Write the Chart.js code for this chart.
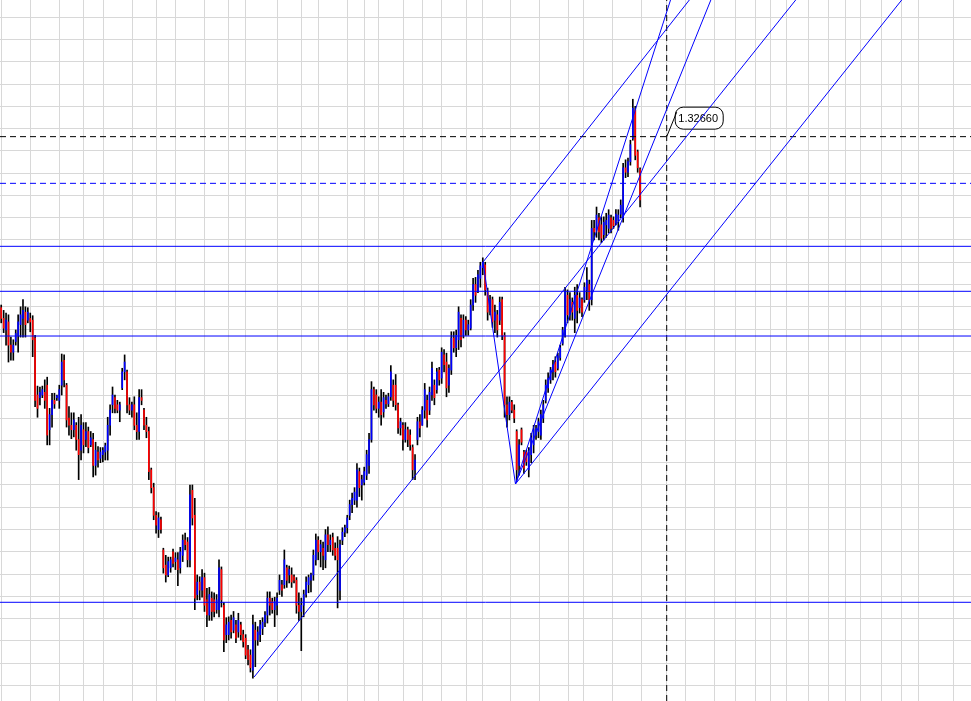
<!DOCTYPE html>
<html>
<head>
<meta charset="utf-8">
<title>Price chart</title>
<style>
  html, body { margin: 0; padding: 0; background: #ffffff; overflow: hidden; }
  #wrap { width: 971px; height: 701px; }
</style>
<script src="https://cdn.jsdelivr.net/npm/chart.js@4.4.1/dist/chart.umd.min.js"></script>
</head>
<body>
<div id="wrap"><canvas id="priceChart" width="971" height="701"></canvas></div>
<script>
// OHLC bars, one entry per bar (bar index = position in the array)
const opens = [
  1.3074, 1.3062, 1.3049, 1.3058, 1.3032, 1.3024, 1.3036, 1.3043, 1.3055, 1.3062,
  1.3069, 1.3060, 1.3062, 1.3060, 1.3040, 1.2976, 1.2973, 1.2976, 1.2979, 1.2987,
  1.2937, 1.2954, 1.2970, 1.2973, 1.2970, 1.2987, 1.3015, 1.2987, 1.2950, 1.2942,
  1.2937, 1.2942, 1.2926, 1.2914, 1.2937, 1.2926, 1.2935, 1.2920, 1.2926, 1.2897,
  1.2912, 1.2905, 1.2909, 1.2912, 1.2914, 1.2942, 1.2965, 1.2973, 1.2965, 1.2959,
  1.2984, 1.3002, 1.3002, 1.2965, 1.2959, 1.2965, 1.2942, 1.2935, 1.2973, 1.2959,
  1.2942, 1.2935, 1.2892, 1.2872, 1.2841, 1.2825, 1.2836, 1.2802, 1.2785, 1.2774,
  1.2782, 1.2800, 1.2789, 1.2791, 1.2782, 1.2796, 1.2813, 1.2811, 1.2791, 1.2869,
  1.2841, 1.2752, 1.2766, 1.2757, 1.2771, 1.2746, 1.2729, 1.2748, 1.2746, 1.2735,
  1.2735, 1.2780, 1.2740, 1.2707, 1.2707, 1.2723, 1.2712, 1.2718, 1.2710, 1.2718,
  1.2707, 1.2703, 1.2690, 1.2684, 1.2667, 1.2712, 1.2701, 1.2707, 1.2714, 1.2721,
  1.2729, 1.2748, 1.2744, 1.2735, 1.2740, 1.2757, 1.2763, 1.2763, 1.2782, 1.2774,
  1.2774, 1.2772, 1.2768, 1.2740, 1.2733, 1.2740, 1.2752, 1.2763, 1.2768, 1.2774,
  1.2791, 1.2813, 1.2800, 1.2804, 1.2791, 1.2819, 1.2808, 1.2816, 1.2804, 1.2804,
  1.2757, 1.2813, 1.2822, 1.2827, 1.2841, 1.2853, 1.2858, 1.2858, 1.2890, 1.2875,
  1.2878, 1.2886, 1.2897, 1.2926, 1.2982, 1.2976, 1.2961, 1.2968, 1.2957, 1.2970,
  1.2966, 1.2974, 1.2987, 1.2987, 1.2965, 1.2939, 1.2942, 1.2926, 1.2937, 1.2931,
  1.2917, 1.2892, 1.2926, 1.2946, 1.2942, 1.2959, 1.2970, 1.2959, 1.2976, 1.2987,
  1.2982, 1.3004, 1.2995, 1.3021, 1.3013, 1.2987, 1.3004, 1.3040, 1.3029, 1.3038,
  1.3062, 1.3043, 1.3060, 1.3049, 1.3051, 1.3077, 1.3100, 1.3092, 1.3107, 1.3119,
  1.3122, 1.3092, 1.3071, 1.3083, 1.3060, 1.3066, 1.3060, 1.3083, 1.3043, 1.2965,
  1.2954, 1.2968, 1.2959, 1.2935, 1.2897, 1.2937, 1.2912, 1.2912, 1.2892, 1.2909,
  1.2920, 1.2931, 1.2935, 1.2931, 1.2950, 1.2970, 1.2984, 1.2993, 1.3002, 1.3013,
  1.3006, 1.3018, 1.3034, 1.3043, 1.3088, 1.3066, 1.3080, 1.3062, 1.3088, 1.3074,
  1.3083, 1.3083, 1.3094, 1.3100, 1.3083, 1.3163, 1.3161, 1.3175, 1.3167, 1.3156,
  1.3167, 1.3163, 1.3175, 1.3172, 1.3169, 1.3172, 1.3179, 1.3175, 1.3231, 1.3226,
  1.3238, 1.3264, 1.3296, 1.3249, 1.3229
];
const highs = [
  1.3077, 1.3071, 1.3068, 1.3066, 1.3041, 1.3038, 1.3049, 1.3066, 1.3075, 1.3083,
  1.3075, 1.3074, 1.3068, 1.3065, 1.3043, 1.2986, 1.2985, 1.2986, 1.2993, 1.2996,
  1.2961, 1.2978, 1.2978, 1.2976, 1.2987, 1.3022, 1.3021, 1.2989, 1.2963, 1.2956,
  1.2956, 1.2945, 1.2951, 1.2954, 1.2945, 1.2945, 1.2940, 1.2935, 1.2933, 1.2923,
  1.2918, 1.2917, 1.2917, 1.2922, 1.2951, 1.2965, 1.2985, 1.2976, 1.2970, 1.2968,
  1.3006, 1.3021, 1.3004, 1.2973, 1.2968, 1.2974, 1.2956, 1.2982, 1.2982, 1.2961,
  1.2951, 1.2940, 1.2894, 1.2877, 1.2845, 1.2844, 1.2839, 1.2804, 1.2796, 1.2794,
  1.2794, 1.2803, 1.2799, 1.2799, 1.2805, 1.2819, 1.2821, 1.2816, 1.2875, 1.2875,
  1.2860, 1.2774, 1.2772, 1.2780, 1.2776, 1.2759, 1.2760, 1.2755, 1.2754, 1.2752,
  1.2791, 1.2783, 1.2743, 1.2726, 1.2727, 1.2729, 1.2733, 1.2723, 1.2731, 1.2721,
  1.2712, 1.2707, 1.2695, 1.2690, 1.2729, 1.2721, 1.2716, 1.2723, 1.2726, 1.2733,
  1.2755, 1.2755, 1.2748, 1.2749, 1.2754, 1.2774, 1.2768, 1.2802, 1.2785, 1.2784,
  1.2782, 1.2774, 1.2771, 1.2754, 1.2748, 1.2757, 1.2772, 1.2774, 1.2776, 1.2802,
  1.2820, 1.2817, 1.2813, 1.2811, 1.2825, 1.2828, 1.2819, 1.2821, 1.2810, 1.2817,
  1.2813, 1.2827, 1.2830, 1.2841, 1.2858, 1.2866, 1.2872, 1.2899, 1.2894, 1.2886,
  1.2895, 1.2914, 1.2933, 1.2991, 1.2985, 1.2982, 1.2974, 1.2982, 1.2979, 1.2976,
  1.2978, 1.3009, 1.2993, 1.2999, 1.2967, 1.2950, 1.2945, 1.2945, 1.2940, 1.2937,
  1.2920, 1.2909, 1.2951, 1.2954, 1.2963, 1.2989, 1.2976, 1.2985, 1.3013, 1.2993,
  1.3006, 1.3007, 1.3029, 1.3027, 1.3023, 1.3010, 1.3047, 1.3047, 1.3049, 1.3075,
  1.3066, 1.3066, 1.3064, 1.3060, 1.3083, 1.3107, 1.3108, 1.3116, 1.3125, 1.3130,
  1.3125, 1.3096, 1.3088, 1.3086, 1.3077, 1.3071, 1.3086, 1.3086, 1.3046, 1.2974,
  1.2974, 1.2970, 1.2965, 1.2937, 1.2926, 1.2939, 1.2914, 1.2914, 1.2917, 1.2933,
  1.2942, 1.2942, 1.2950, 1.2959, 1.2970, 1.2993, 1.3001, 1.3007, 1.3015, 1.3019,
  1.3023, 1.3032, 1.3052, 1.3097, 1.3094, 1.3091, 1.3085, 1.3097, 1.3100, 1.3091,
  1.3085, 1.3102, 1.3119, 1.3105, 1.3172, 1.3172, 1.3187, 1.3180, 1.3176, 1.3176,
  1.3180, 1.3184, 1.3178, 1.3176, 1.3184, 1.3184, 1.3195, 1.3236, 1.3240, 1.3242,
  1.3262, 1.3308, 1.3300, 1.3251, 1.3231
];
const lows = [
  1.3057, 1.3046, 1.3032, 1.3013, 1.3015, 1.3015, 1.3032, 1.3024, 1.3041, 1.3041,
  1.3041, 1.3057, 1.3047, 1.3019, 1.2963, 1.2951, 1.2965, 1.2973, 1.2961, 1.2920,
  1.2920, 1.2940, 1.2961, 1.2970, 1.2961, 1.2976, 1.2985, 1.2940, 1.2931, 1.2927,
  1.2929, 1.2914, 1.2881, 1.2903, 1.2911, 1.2918, 1.2911, 1.2918, 1.2884, 1.2886,
  1.2895, 1.2900, 1.2901, 1.2903, 1.2903, 1.2931, 1.2956, 1.2956, 1.2956, 1.2946,
  1.2982, 1.2993, 1.2956, 1.2954, 1.2951, 1.2937, 1.2926, 1.2926, 1.2965, 1.2937,
  1.2928, 1.2881, 1.2866, 1.2836, 1.2821, 1.2816, 1.2821, 1.2776, 1.2766, 1.2772,
  1.2777, 1.2783, 1.2780, 1.2762, 1.2776, 1.2789, 1.2802, 1.2783, 1.2783, 1.2830,
  1.2735, 1.2746, 1.2746, 1.2749, 1.2733, 1.2716, 1.2723, 1.2723, 1.2727, 1.2731,
  1.2727, 1.2738, 1.2688, 1.2698, 1.2701, 1.2703, 1.2709, 1.2698, 1.2704, 1.2701,
  1.2693, 1.2680, 1.2673, 1.2665, 1.2658, 1.2671, 1.2695, 1.2699, 1.2707, 1.2716,
  1.2720, 1.2729, 1.2731, 1.2716, 1.2729, 1.2752, 1.2750, 1.2759, 1.2760, 1.2765,
  1.2760, 1.2765, 1.2731, 1.2723, 1.2689, 1.2727, 1.2749, 1.2754, 1.2755, 1.2768,
  1.2785, 1.2791, 1.2783, 1.2780, 1.2782, 1.2800, 1.2800, 1.2796, 1.2791, 1.2737,
  1.2746, 1.2808, 1.2817, 1.2821, 1.2836, 1.2844, 1.2853, 1.2850, 1.2862, 1.2858,
  1.2875, 1.2881, 1.2888, 1.2923, 1.2959, 1.2956, 1.2951, 1.2942, 1.2951, 1.2961,
  1.2963, 1.2970, 1.2963, 1.2959, 1.2933, 1.2931, 1.2914, 1.2923, 1.2918, 1.2914,
  1.2881, 1.2881, 1.2920, 1.2929, 1.2942, 1.2950, 1.2940, 1.2954, 1.2970, 1.2965,
  1.2978, 1.2987, 1.2989, 1.3002, 1.2974, 1.2979, 1.2999, 1.3024, 1.3019, 1.3027,
  1.3030, 1.3040, 1.3043, 1.3043, 1.3049, 1.3071, 1.3080, 1.3091, 1.3097, 1.3111,
  1.3088, 1.3060, 1.3066, 1.3052, 1.3046, 1.3041, 1.3055, 1.3038, 1.2951, 1.2940,
  1.2948, 1.2956, 1.2945, 1.2880, 1.2886, 1.2920, 1.2888, 1.2897, 1.2884, 1.2900,
  1.2911, 1.2926, 1.2928, 1.2926, 1.2945, 1.2967, 1.2979, 1.2989, 1.2993, 1.2996,
  1.3004, 1.3015, 1.3032, 1.3041, 1.3057, 1.3060, 1.3060, 1.3046, 1.3057, 1.3068,
  1.3064, 1.3080, 1.3083, 1.3071, 1.3077, 1.3150, 1.3153, 1.3150, 1.3147, 1.3150,
  1.3153, 1.3158, 1.3158, 1.3163, 1.3167, 1.3161, 1.3175, 1.3170, 1.3220, 1.3221,
  1.3234, 1.3262, 1.3240, 1.3226, 1.3187
];
const closes = [
  1.3062, 1.3051, 1.3060, 1.3032, 1.3024, 1.3032, 1.3045, 1.3058, 1.3066, 1.3071,
  1.3055, 1.3069, 1.3058, 1.3038, 1.2970, 1.2961, 1.2979, 1.2982, 1.2970, 1.2931,
  1.2954, 1.2970, 1.2966, 1.2975, 1.2982, 1.3013, 1.2993, 1.2948, 1.2942, 1.2937,
  1.2948, 1.2926, 1.2909, 1.2942, 1.2920, 1.2935, 1.2917, 1.2928, 1.2897, 1.2914,
  1.2903, 1.2912, 1.2914, 1.2919, 1.2942, 1.2959, 1.2976, 1.2961, 1.2959, 1.2965,
  1.3002, 1.3013, 1.2965, 1.2959, 1.2965, 1.2942, 1.2935, 1.2973, 1.2970, 1.2942,
  1.2935, 1.2890, 1.2872, 1.2841, 1.2830, 1.2838, 1.2825, 1.2782, 1.2774, 1.2789,
  1.2791, 1.2787, 1.2793, 1.2780, 1.2800, 1.2813, 1.2808, 1.2791, 1.2864, 1.2838,
  1.2748, 1.2766, 1.2757, 1.2771, 1.2740, 1.2729, 1.2752, 1.2733, 1.2733, 1.2746,
  1.2782, 1.2746, 1.2701, 1.2718, 1.2721, 1.2710, 1.2726, 1.2703, 1.2723, 1.2707,
  1.2699, 1.2684, 1.2679, 1.2670, 1.2718, 1.2701, 1.2710, 1.2718, 1.2721, 1.2729,
  1.2748, 1.2740, 1.2735, 1.2744, 1.2748, 1.2768, 1.2757, 1.2791, 1.2768, 1.2780,
  1.2766, 1.2768, 1.2740, 1.2733, 1.2740, 1.2752, 1.2766, 1.2771, 1.2774, 1.2796,
  1.2813, 1.2800, 1.2808, 1.2796, 1.2819, 1.2808, 1.2813, 1.2802, 1.2796, 1.2791,
  1.2808, 1.2822, 1.2827, 1.2838, 1.2853, 1.2860, 1.2867, 1.2892, 1.2872, 1.2881,
  1.2890, 1.2909, 1.2926, 1.2982, 1.2965, 1.2961, 1.2968, 1.2954, 1.2973, 1.2966,
  1.2974, 1.3002, 1.2970, 1.2965, 1.2939, 1.2946, 1.2926, 1.2937, 1.2926, 1.2920,
  1.2892, 1.2903, 1.2946, 1.2939, 1.2959, 1.2982, 1.2948, 1.2979, 1.3006, 1.2973,
  1.3002, 1.2993, 1.3024, 1.3010, 1.2984, 1.3006, 1.3040, 1.3029, 1.3043, 1.3069,
  1.3038, 1.3060, 1.3049, 1.3055, 1.3077, 1.3100, 1.3088, 1.3111, 1.3121, 1.3125,
  1.3094, 1.3069, 1.3083, 1.3058, 1.3069, 1.3049, 1.3080, 1.3043, 1.2965, 1.2954,
  1.2968, 1.2959, 1.2950, 1.2892, 1.2920, 1.2923, 1.2894, 1.2901, 1.2912, 1.2928,
  1.2937, 1.2939, 1.2946, 1.2954, 1.2965, 1.2987, 1.2995, 1.3004, 1.3010, 1.3002,
  1.3020, 1.3029, 1.3049, 1.3092, 1.3066, 1.3083, 1.3069, 1.3088, 1.3071, 1.3085,
  1.3069, 1.3097, 1.3105, 1.3083, 1.3163, 1.3159, 1.3178, 1.3159, 1.3152, 1.3170,
  1.3172, 1.3178, 1.3163, 1.3166, 1.3179, 1.3178, 1.3189, 1.3231, 1.3226, 1.3238,
  1.3257, 1.3298, 1.3245, 1.3231, 1.3195
];

// horizontal levels drawn across the whole chart
const solidLevels = [1.31429, 1.30924, 1.30422, 1.27433];
const dashedLevel = 1.32136;

// crosshair (bar index, price) and its price label
const cursorBar = 275;
const cursorPrice = 1.32660;

// trend lines: [bar from, price from, bar to, price to]
const trendLines = [
  [104.5, 1.26594, 331.6, 1.34306],  // lower channel line from the low
  [199.1, 1.31253, 287.6, 1.34306],  // upper channel line from the top
  [212.5, 1.28761, 375.4, 1.34306],  // channel line from the second low
  [199.1, 1.31253, 212.5, 1.28761],  // drop from the top to the second low
  [212.5, 1.28761, 277.9, 1.34306],  // steep fan line
  [212.5, 1.28761, 294.9, 1.34306]   // middle fan line
];

// grid: price levels every 25 pips, time lines at session starts (bar index)
const priceGrid = [
  1.2650, 1.2675, 1.2700, 1.2725, 1.2750, 1.2775, 1.2800, 1.2825, 1.2850, 1.2875,
  1.2900, 1.2925, 1.2950, 1.2975, 1.3000, 1.3025, 1.3050, 1.3075, 1.3100, 1.3125,
  1.3150, 1.3175, 1.3200, 1.3225, 1.3250, 1.3275, 1.3300, 1.3325, 1.3350, 1.3375,
  1.3400
];
const timeGrid = [
  0.0, 12.0, 24.0, 33.9, 42.2, 54.2, 64.1, 72.1, 84.1, 94.1, 100.9, 114.1, 124.0,
  131.0, 143.0, 150.0, 156.1, 166.2, 174.2, 182.1, 192.1, 198.8, 210.4, 222.4,
  234.3, 240.5, 252.5, 264.5, 274.9, 282.7, 294.7, 303.5, 311.8, 317.8, 324.7,
  333.5, 341.8, 349.0, 355.0, 363.7, 371.9, 378.9, 393.4
];

// visible window
const xMin = -0.5, xMax = 400.74;
const yMin = 1.26325, yMax = 1.34194;

const BLUE = '#0000ff';
const RED = '#ff0000';

const wickData = highs.map((h, i) => ({ x: i, y: [lows[i], h] }));
const bodyData = opens.map((o, i) => ({ x: i, y: [Math.min(o, closes[i]), Math.max(o, closes[i])] }));
const bodyColors = opens.map((o, i) => (closes[i] >= o ? BLUE : RED));

function levelLine(price, color, dash) {
  return {
    type: 'line',
    data: [{ x: xMin, y: price }, { x: xMax, y: price }],
    borderColor: color,
    borderWidth: 1,
    borderDash: dash || [],
    pointRadius: 0,
    order: 0
  };
}

const datasets = [];

trendLines.forEach(t => {
  datasets.push({
    type: 'line',
    data: [{ x: t[0], y: t[1] }, { x: t[2], y: t[3] }],
    borderColor: BLUE,
    borderWidth: 1,
    pointRadius: 0,
    order: 0
  });
});
solidLevels.forEach(p => datasets.push(levelLine(p, BLUE)));
datasets.push(levelLine(dashedLevel, BLUE, [6, 4]));
datasets.push(levelLine(cursorPrice, '#000000', [6, 4]));
datasets.push({
  type: 'line',
  data: [{ x: cursorBar, y: yMin }, { x: cursorBar, y: yMax }],
  borderColor: '#000000',
  borderWidth: 1,
  borderDash: [6, 4],
  pointRadius: 0,
  order: 0
});
// candle bodies over the high-low wicks
datasets.push({
  type: 'bar',
  data: bodyData,
  backgroundColor: bodyColors,
  barThickness: 1,
  grouped: false,
  order: 1
});
datasets.push({
  type: 'bar',
  data: wickData,
  backgroundColor: '#000000',
  barThickness: 1,
  grouped: false,
  order: 2
});

// price box next to the crosshair
const cursorLabel = {
  id: 'cursorLabel',
  beforeDatasetsDraw(chart) {
    const { ctx, scales: { x, y } } = chart;
    const px = x.getPixelForValue(cursorBar);
    const py = y.getPixelForValue(cursorPrice);
    const bx = px + 8.5, by = py - 29.5, bw = 48, bh = 22;
    ctx.save();
    ctx.fillStyle = '#ffffff';
    ctx.strokeStyle = '#000000';
    ctx.lineWidth = 1;
    ctx.beginPath();
    ctx.roundRect(bx, by, bw, bh, 8);
    ctx.fill();
    ctx.stroke();
    ctx.beginPath();
    ctx.moveTo(px, py);
    ctx.lineTo(bx + 1.5, by + 5);
    ctx.stroke();
    ctx.fillStyle = '#000000';
    ctx.font = '11px "Liberation Sans", Arial, sans-serif';
    ctx.textAlign = 'center';
    ctx.textBaseline = 'middle';
    ctx.fillText(cursorPrice.toFixed(5), bx + bw / 2 - 1, by + bh / 2 + 1);
    ctx.restore();
  }
};

new Chart(document.getElementById('priceChart'), {
  type: 'bar',
  data: { datasets: datasets },
  options: {
    responsive: false,
    devicePixelRatio: 1,
    animation: false,
    events: [],
    layout: { padding: 0 },
    plugins: {
      legend: { display: false },
      tooltip: { enabled: false }
    },
    scales: {
      x: {
        type: 'linear',
        min: xMin,
        max: xMax,
        offset: false,
        ticks: { display: false },
        grid: { color: '#d8d8d8', lineWidth: 1, drawTicks: false, offset: false },
        border: { display: false },
        afterBuildTicks: scale => { scale.ticks = timeGrid.map(v => ({ value: v })); }
      },
      y: {
        type: 'linear',
        min: yMin,
        max: yMax,
        beginAtZero: false,
        ticks: { display: false },
        grid: { color: '#d8d8d8', lineWidth: 1, drawTicks: false },
        border: { display: false },
        afterBuildTicks: scale => { scale.ticks = priceGrid.map(v => ({ value: v })); }
      }
    }
  },
  plugins: [cursorLabel]
});
</script>
</body>
</html>
